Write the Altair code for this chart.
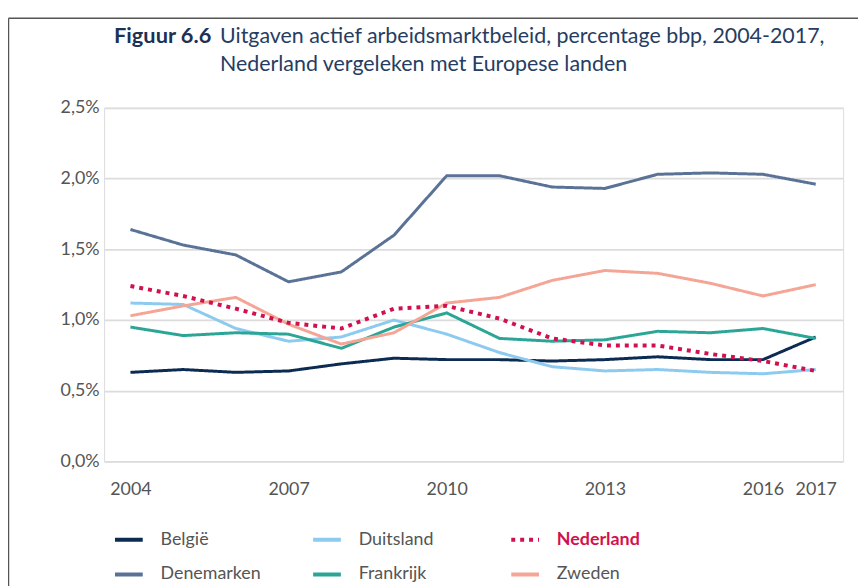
import altair as alt
import pandas as pd

years = list(range(2004, 2018))
belgie =     [0.63, 0.65, 0.63, 0.64, 0.69, 0.73, 0.72, 0.72, 0.71, 0.72, 0.74, 0.72, 0.72, 0.88]
denemarken = [1.64, 1.53, 1.46, 1.27, 1.34, 1.60, 2.02, 2.02, 1.94, 1.93, 2.03, 2.04, 2.03, 1.96]
duitsland =  [1.12, 1.11, 0.94, 0.85, 0.88, 1.00, 0.90, 0.77, 0.67, 0.64, 0.65, 0.63, 0.62, 0.65]
frankrijk =  [0.95, 0.89, 0.91, 0.90, 0.80, 0.95, 1.05, 0.87, 0.85, 0.86, 0.92, 0.91, 0.94, 0.87]
nederland =  [1.24, 1.17, 1.08, 0.98, 0.94, 1.08, 1.10, 1.01, 0.87, 0.82, 0.82, 0.76, 0.71, 0.64]
zweden =     [1.03, 1.10, 1.16, 0.97, 0.83, 0.91, 1.12, 1.16, 1.28, 1.35, 1.33, 1.26, 1.17, 1.25]

series = {
    "België": belgie,
    "Denemarken": denemarken,
    "Duitsland": duitsland,
    "Frankrijk": frankrijk,
    "Nederland": nederland,
    "Zweden": zweden,
}
legend_order = ["België", "Denemarken", "Duitsland", "Frankrijk", "Nederland", "Zweden"]
colors = ["#0c2b52", "#5b7297", "#8ccbef", "#2ba596", "#d1114f", "#f5a595"]
dashes = [[1, 0], [1, 0], [1, 0], [1, 0], [4, 5], [1, 0]]
x_ticks = [2004, 2007, 2010, 2013, 2016, 2017]

title_bold = "Figuur 6.6"
title_line1 = "Uitgaven actief arbeidsmarktbeleid, percentage bbp, 2004-2017,"
title_line2 = "Nederland vergeleken met Europese landen"

rows = []
for name, vals in series.items():
    for y, v in zip(years, vals):
        rows.append({"jaar": y, "land": name, "waarde": v})
df = pd.DataFrame(rows)

FONT = "Lato"

legend = alt.Legend(
    title=None, orient="none", legendX=9, legendY=420, columns=3, direction="vertical",
    gridAlign="all", columnPadding=44, rowPadding=10,
    symbolType="stroke", symbolSize=784, symbolStrokeWidth=4,
    labelFont=FONT, labelFontSize=18, labelOffset=16,
    labelColor=alt.ExprRef("datum.label == 'Nederland' ? '#d1114f' : '#555555'"),
    labelFontWeight=alt.ExprRef("datum.label == 'Nederland' ? 'bold' : 'normal'"),
)

color = alt.Color("land:N", scale=alt.Scale(domain=legend_order, range=colors), legend=legend)
dash = alt.StrokeDash("land:N", scale=alt.Scale(domain=legend_order, range=dashes), legend=legend)

x = alt.X("jaar:Q", scale=alt.Scale(domain=[2003.5, 2017.52], nice=False, zero=False),
          axis=alt.Axis(values=x_ticks, format="d", title=None, grid=False, ticks=False, domain=False,
                        labelFont=FONT, labelFontSize=18, labelColor="#555555", labelPadding=19,
                        labelFlush=False))
y = alt.Y("waarde:Q", scale=alt.Scale(domain=[0, 2.5], nice=False),
          axis=alt.Axis(values=[0, 0.5, 1.0, 1.5, 2.0, 2.5], title=None, ticks=False, domain=False,
                        labelExpr="replace(format(datum.value, '.1f'), '.', ',') + '%'",
                        labelFont=FONT, labelFontSize=18, labelColor="#555555", labelPadding=5,
                        gridColor="#dcdcdc", gridWidth=1.8))

base = alt.Chart(df)
others = base.transform_filter("datum.land != 'Nederland'").mark_line(strokeWidth=3).encode(
    x=x, y=y, color=color, strokeDash=dash)
nl = base.transform_filter("datum.land == 'Nederland'").mark_line(strokeWidth=4).encode(
    x=x, y=y, color=color, strokeDash=dash)

tdf = pd.DataFrame({"t": [title_bold, title_line1, title_line2]})
t_bold = alt.Chart(tdf).transform_filter(alt.datum.t == title_bold).mark_text(
    font=FONT, fontSize=22, fontWeight="bold", color="#1b3157", align="left", baseline="alphabetic"
).encode(text="t:N", x=alt.value(10), y=alt.value(-65))
t_l1 = alt.Chart(tdf).transform_filter(alt.datum.t == title_line1).mark_text(
    font=FONT, fontSize=21.6, color="#263d63", align="left", baseline="alphabetic"
).encode(text="t:N", x=alt.value(117), y=alt.value(-65))
t_l2 = alt.Chart(tdf).transform_filter(alt.datum.t == title_line2).mark_text(
    font=FONT, fontSize=21.6, color="#263d63", align="left", baseline="alphabetic"
).encode(text="t:N", x=alt.value(117), y=alt.value(-37))

frame_top = alt.Chart(tdf).transform_filter(alt.datum.t == title_bold).mark_rule(
    color="#555555", strokeWidth=1.5
).encode(x=alt.value(-96.5), x2=alt.value(775), y=alt.value(-90.5))
frame_left = alt.Chart(tdf).transform_filter(alt.datum.t == title_bold).mark_rule(
    color="#555555", strokeWidth=1.5
).encode(x=alt.value(-96.5), y=alt.value(-90.5), y2=alt.value(500))

chart = alt.layer(others, nl, t_bold, t_l1, t_l2, frame_top, frame_left).properties(
    width=746, height=357,
    autosize=alt.AutoSizeParams(type="none"),
    padding={"left": 97, "top": 98, "right": 15, "bottom": 130},
).configure_view(stroke=None).configure(background="white")

chart.save("out.html", embed_options={"renderer": "svg", "actions": False})
